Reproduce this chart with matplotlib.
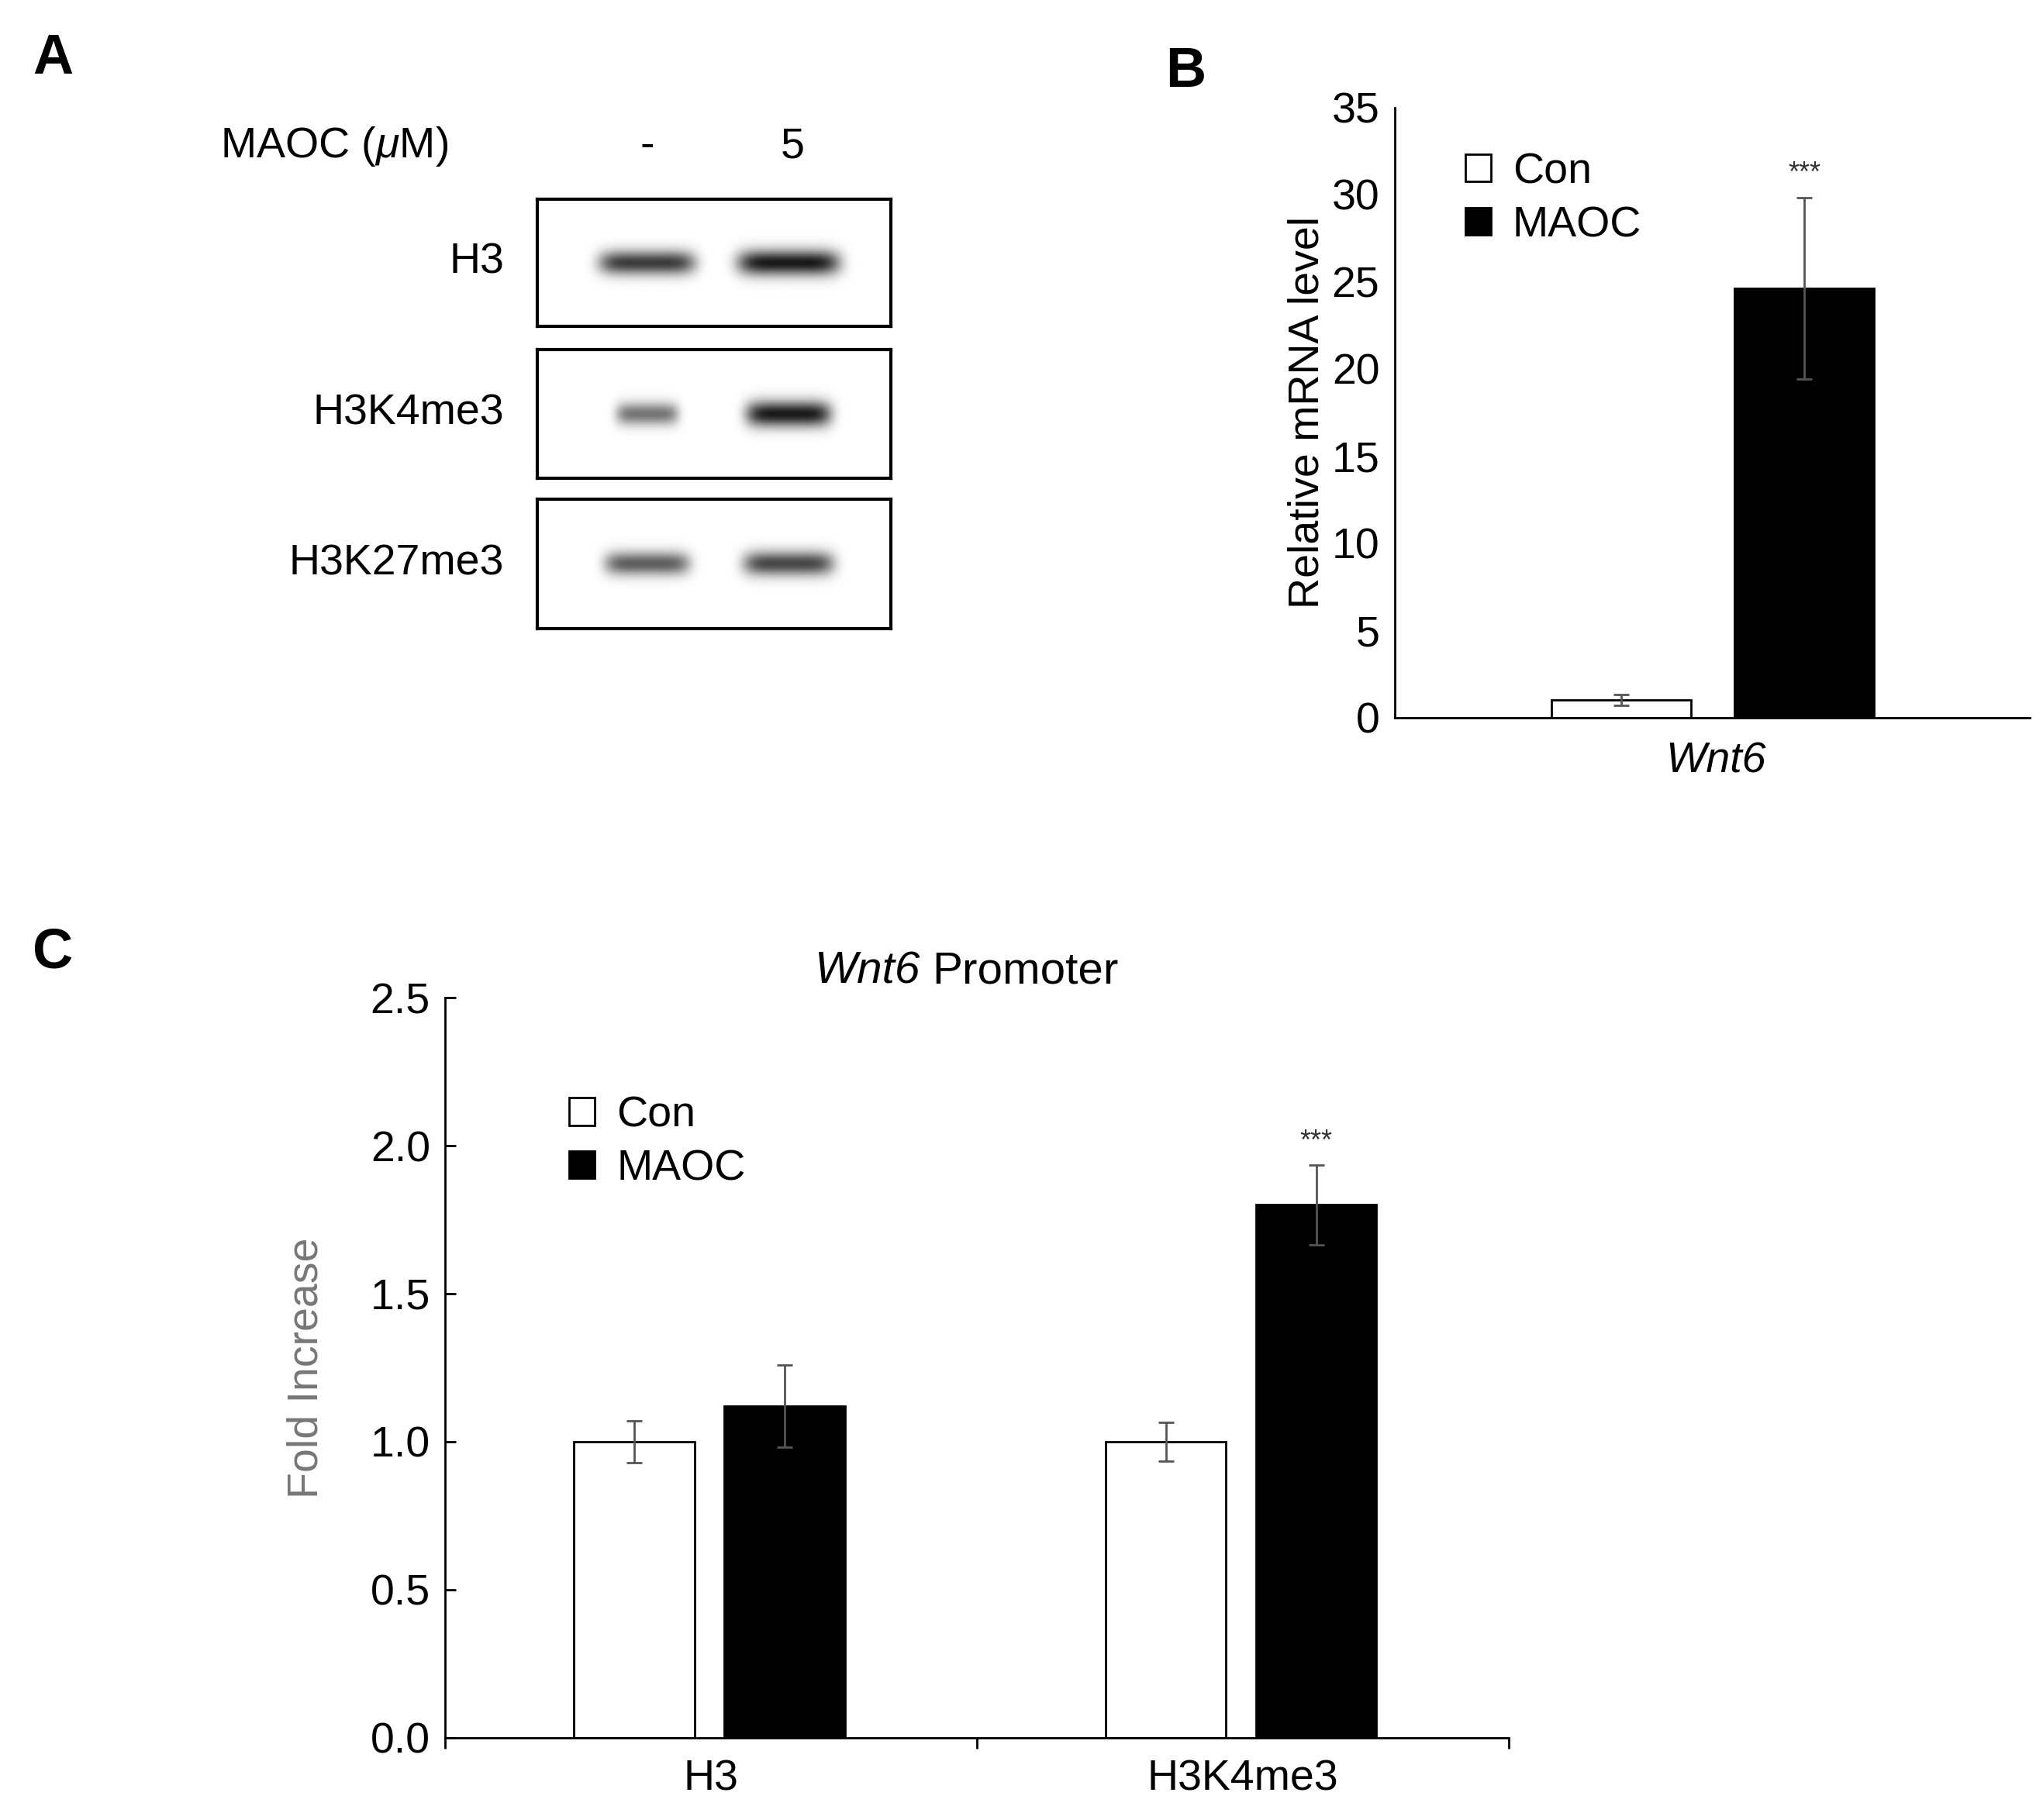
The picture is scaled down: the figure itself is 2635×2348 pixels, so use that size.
import numpy as np
import matplotlib.pyplot as plt

plt.rcParams['font.family'] = ['Liberation Sans', 'DejaVu Sans']
plt.rcParams['font.size'] = 40
plt.rcParams['mathtext.fontset'] = 'custom'
plt.rcParams['mathtext.rm'] = 'Liberation Sans'
plt.rcParams['mathtext.it'] = 'Liberation Sans:italic'

# Panel A: western blot band strengths (lane '-', lane '5')
blot_labels = ['H3', 'H3K4me3', 'H3K27me3']
band_strength = [[0.85, 1.0], [0.6, 1.0], [0.7, 0.8]]
band_width = [[0.85, 0.9], [0.55, 0.75], [0.75, 0.8]]

# Panel B
b_groups = ['Con', 'MAOC']
b_values = [1.0, 24.6]
b_errors = [0.3, 5.2]

# Panel C
c_categories = ['H3', 'H3K4me3']
c_con = [1.0, 1.0]
c_con_err = [0.07, 0.065]
c_maoc = [1.12, 1.80]
c_maoc_err = [0.14, 0.135]

W, H = 1560, 1390
fig = plt.figure(figsize=(26.35, 23.48), dpi=100)


def fx(x):
    return x / W


def fy(y):
    return 1 - y / H


err_style = dict(ecolor='#555555', elinewidth=2, capsize=7, capthick=2)

# ---- Panel A ----
fig.text(fx(25), fy(45), 'A', fontsize=52, fontweight='bold', va='center')
fig.text(fx(168), fy(112), 'MAOC ($\\mu$M)', fontsize=40, va='center')
fig.text(fx(494), fy(112), '-', fontsize=40, va='center', ha='center')
fig.text(fx(605), fy(112), '5', fontsize=40, va='center', ha='center')
boxes = [(152, 249), (267, 365), (381, 480)]
xx = np.linspace(0, 1, 400)
yy = np.linspace(0, 1, 120)
X, Y = np.meshgrid(xx, yy)
for (top, bot), lab, strengths, widths in zip(boxes, blot_labels, band_strength, band_width):
    ax = fig.add_axes([fx(410), fy(bot), fx(680 - 410), (bot - top) / H])
    img = np.zeros_like(X)
    for cx, s, w in zip([0.31, 0.71], strengths, widths):
        hw = 0.16 * w
        img += s * np.exp(-((X - cx) / hw) ** 6) * np.exp(-((Y - 0.5) / (0.07 + 0.03 * s)) ** 2)
    ax.imshow(1 - np.clip(img, 0, 1) * 0.9, cmap='gray', vmin=0, vmax=1,
              aspect='auto', extent=[0, 1, 0, 1])
    ax.set_xticks([])
    ax.set_yticks([])
    for sp in ax.spines.values():
        sp.set_linewidth(3)
    fig.text(fx(385), fy((top + bot) / 2), lab, ha='right', va='center', fontsize=40)

# ---- Panel B ----
axb = fig.add_axes([fx(1065), fy(548), fx(1550 - 1065), (548 - 82) / H])
offs = [-0.143, 0.145]
colors = ['white', 'black']
for o, v, e, c, g in zip(offs, b_values, b_errors, colors, b_groups):
    axb.bar(o, v, 0.22, color=c, edgecolor='black', linewidth=2, label=g,
            yerr=e, error_kw=err_style)
axb.text(offs[1], b_values[1] + b_errors[1] + 0.6, '***', ha='center', va='bottom',
         fontsize=26, color='#333333')
axb.set_xlim(-0.5, 0.5)
axb.set_ylim(0, 35)
axb.set_yticks(range(0, 36, 5))
axb.set_xticks([0.005])
axb.set_xticklabels(['Wnt6'], style='italic')
axb.tick_params(axis='x', length=0, pad=22)
axb.tick_params(axis='y', length=0, pad=14)
axb.spines['top'].set_visible(False)
axb.spines['right'].set_visible(False)
axb.spines['left'].set_linewidth(2)
axb.spines['bottom'].set_linewidth(2)
axb.set_ylabel('Relative mRNA level', fontsize=40, labelpad=4)
axb.legend(loc='upper left', bbox_to_anchor=(0.05, 0.99), frameon=False, fontsize=40,
           handlelength=0.6, handleheight=0.6, handletextpad=0.5, labelspacing=0.3)
fig.text(fx(890), fy(55), 'B', fontsize=52, fontweight='bold', va='center')

# ---- Panel C ----
axc = fig.add_axes([fx(340), fy(1327), fx(1152 - 340), (1327 - 762) / H])
x = np.arange(len(c_categories))
axc.bar(x - 0.145, c_con, 0.227, color='white', edgecolor='black', linewidth=2,
        label='Con', yerr=c_con_err, error_kw=err_style)
axc.bar(x + 0.138, c_maoc, 0.227, color='black', edgecolor='black', linewidth=2,
        label='MAOC', yerr=c_maoc_err, error_kw=err_style)
axc.text(1 + 0.138, c_maoc[1] + c_maoc_err[1] + 0.03, '***', ha='center', va='bottom',
         fontsize=26, color='#333333')
axc.set_xlim(-0.5, 1.5)
axc.set_ylim(0, 2.5)
axc.set_yticks(np.arange(0, 2.51, 0.5))
axc.set_yticklabels([f'{v:.1f}' for v in np.arange(0, 2.51, 0.5)])
axc.set_xticks(x)
axc.set_xticklabels(c_categories)
axc.set_xticks([-0.5, 0.5, 1.5], minor=True)
axc.tick_params(axis='x', which='major', length=0, pad=20)
axc.tick_params(axis='x', which='minor', length=10, width=2, direction='out')
axc.tick_params(axis='y', length=10, width=2, direction='in', pad=14)
axc.spines['top'].set_visible(False)
axc.spines['right'].set_visible(False)
axc.spines['left'].set_linewidth(2)
axc.spines['bottom'].set_linewidth(2)
axc.set_ylabel('Fold Increase', fontsize=40, color='#777777', labelpad=40)
fig.text(fx(703), fy(742), 'Wnt6', fontsize=42, style='italic', ha='right', va='center')
fig.text(fx(712), fy(742), 'Promoter', fontsize=42, ha='left', va='center')
axc.legend(loc='upper left', bbox_to_anchor=(0.08, 0.92), frameon=False, fontsize=40,
           handlelength=0.6, handleheight=0.6, handletextpad=0.5, labelspacing=0.3)
fig.text(fx(25), fy(728), 'C', fontsize=52, fontweight='bold', va='center')

fig.savefig('out.png', dpi=100)
